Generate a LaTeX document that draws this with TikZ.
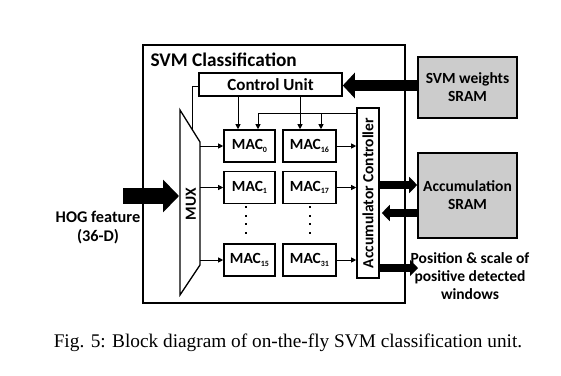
\documentclass[tikz,border=0pt]{standalone}
\usepackage{fontspec}
\setmainfont{Carlito}
\newfontfamily\capfont{Liberation Serif}
\usetikzlibrary{arrows.meta,calc}
\newcommand\macsub[1]{\raisebox{-2.5pt}{\fontsize{8}{8}\selectfont #1}}
\begin{document}
\begin{tikzpicture}[x=1pt,y=-1pt,
  lbl/.style={font=\bfseries\fontsize{15.5}{18}\selectfont, align=center},
  blk/.style={draw, line width=1.6pt, inner sep=0pt, lbl},
  macbox/.style={blk, minimum height=32pt},
  sram/.style={blk, fill=black!20, minimum width=99pt},
  sarrow/.style={line width=0.9pt, -{Triangle[length=5pt,width=5pt]}},
  wire/.style={line width=0.9pt},
  bigarrow/.style={line width=11pt, -{Triangle[length=12pt,width=25pt]}},
  hogarrow/.style={line width=16pt, -{Triangle[length=16pt,width=32pt]}},
  midarrow/.style={line width=7.5pt, -{Triangle[length=8pt,width=16pt]}},
  dotmark/.style={fill=black, inner sep=0pt, minimum size=2pt}]
\useasboundingbox (0,0) rectangle (561,375);

% enclosing classification unit
\node[draw, line width=1.5pt, minimum width=262pt, minimum height=258pt] (svm) at (274,174) {};
\node[anchor=base west, font=\bfseries\fontsize{19.3}{22}\selectfont] (title) at (147,66) {SVM Classification};

% control unit and MAC array
\node[blk, minimum width=143pt, minimum height=23pt, font=\bfseries\fontsize{17}{18}\selectfont] (cu) at (270.5,84.5) {Control Unit};
\node[macbox, minimum width=51pt] (mac0)  at (249.5,146)   {MAC\macsub{0}};
\node[macbox, minimum width=51pt] (mac1)  at (249.5,187.5) {MAC\macsub{1}};
\node[macbox, minimum width=51pt] (mac15) at (249.5,260)   {MAC\macsub{15}};
\node[macbox, minimum width=53pt] (mac16) at (309.5,146)   {MAC\macsub{16}};
\node[macbox, minimum width=53pt] (mac17) at (309.5,187.5) {MAC\macsub{17}};
\node[macbox, minimum width=53pt] (mac31) at (309.5,260)   {MAC\macsub{31}};

% vertical dots between MAC rows
\foreach \yy in {207,215.5,224,232.5} {
  \node[dotmark] at (246,\yy) {};
  \node[dotmark] at (310,\yy) {};
}

% accumulator controller
\node[blk, minimum width=22pt, minimum height=170pt] (acc) at (368,193) {};
\node[lbl, rotate=90] at (acc.center) {Accumulator Controller};

% multiplexer
\coordinate (mt) at (180,110);
\coordinate (mtr) at (200,142);
\coordinate (mbr) at (200,265);
\coordinate (mb) at (180,295);
\draw[line width=1.3pt, line join=miter] (mt) -- (mtr) -- (mbr) -- (mb) -- cycle;
\node[lbl, rotate=90] (mux) at (191,204) {MUX};

% control select line into the multiplexer
\coordinate (sel) at ($(mt)!0.6!(mtr)$);
\draw[wire] ([yshift=-1.5pt]cu.west) -| (sel);

% multiplexer outputs to the MAC rows
\foreach \m in {mac0,mac1,mac15}
  \draw[sarrow] (\m.west -| mtr) -- (\m.west);
% MAC outputs to the accumulator controller
\foreach \m in {mac16,mac17,mac31}
  \draw[sarrow] (\m.east) -- (\m.east -| acc.west);

% control unit to the MACs
\draw[sarrow] ([xshift=-11.5pt]mac0.north |- cu.south) -- ([xshift=-11.5pt]mac0.north);
\draw[sarrow] ([xshift=-9.5pt]mac16.north |- cu.south) -- ([xshift=-9.5pt]mac16.north);

% feedback from the accumulator controller
\coordinate (fb) at ([yshift=-6pt]acc.north west);
\draw[sarrow] (fb) -| ([xshift=8.5pt]mac0.north);
\draw[sarrow] ([xshift=11.5pt]mac16.north |- fb) -- ([xshift=11.5pt]mac16.north);

% external memories
\node[sram, minimum height=61pt] (wsram) at (467.5,87.5) {SVM weights\\SRAM};
\node[sram, minimum height=85pt] (asram) at (467.5,195.5) {Accumulation\\SRAM};

\draw[bigarrow] ([yshift=2pt]wsram.west) -- ([yshift=2pt]wsram.west -| cu.east);
\draw[midarrow] ([yshift=10.5pt]asram.west -| acc.east) -- ([yshift=10.5pt]asram.west);
\draw[midarrow, shorten >=2pt] ([yshift=-17.5pt]asram.west) -- ([yshift=-17.5pt]asram.west -| acc.east);

% detection output
\coordinate (outp) at (418,268);
\draw[midarrow] (outp -| acc.east) -- (outp);
\node[lbl] (pos) at (470,276) {Position \& scale of\\positive detected\\windows};

% HOG feature input
\coordinate (hog) at (123,196);
\draw[hogarrow, shorten >=1pt] (hog) -- (hog -| mt);
\node[lbl, font=\bfseries\fontsize{16.3}{19}\selectfont] (hogl) at (98,228) {HOG feature\\(36-D)};

% caption
\node[font=\capfont\fontsize{19.3}{21}\selectfont] (cap) at (288,343) {Fig. 5: Block diagram of on-the-fly SVM classification unit.};
\end{tikzpicture}
\end{document}
